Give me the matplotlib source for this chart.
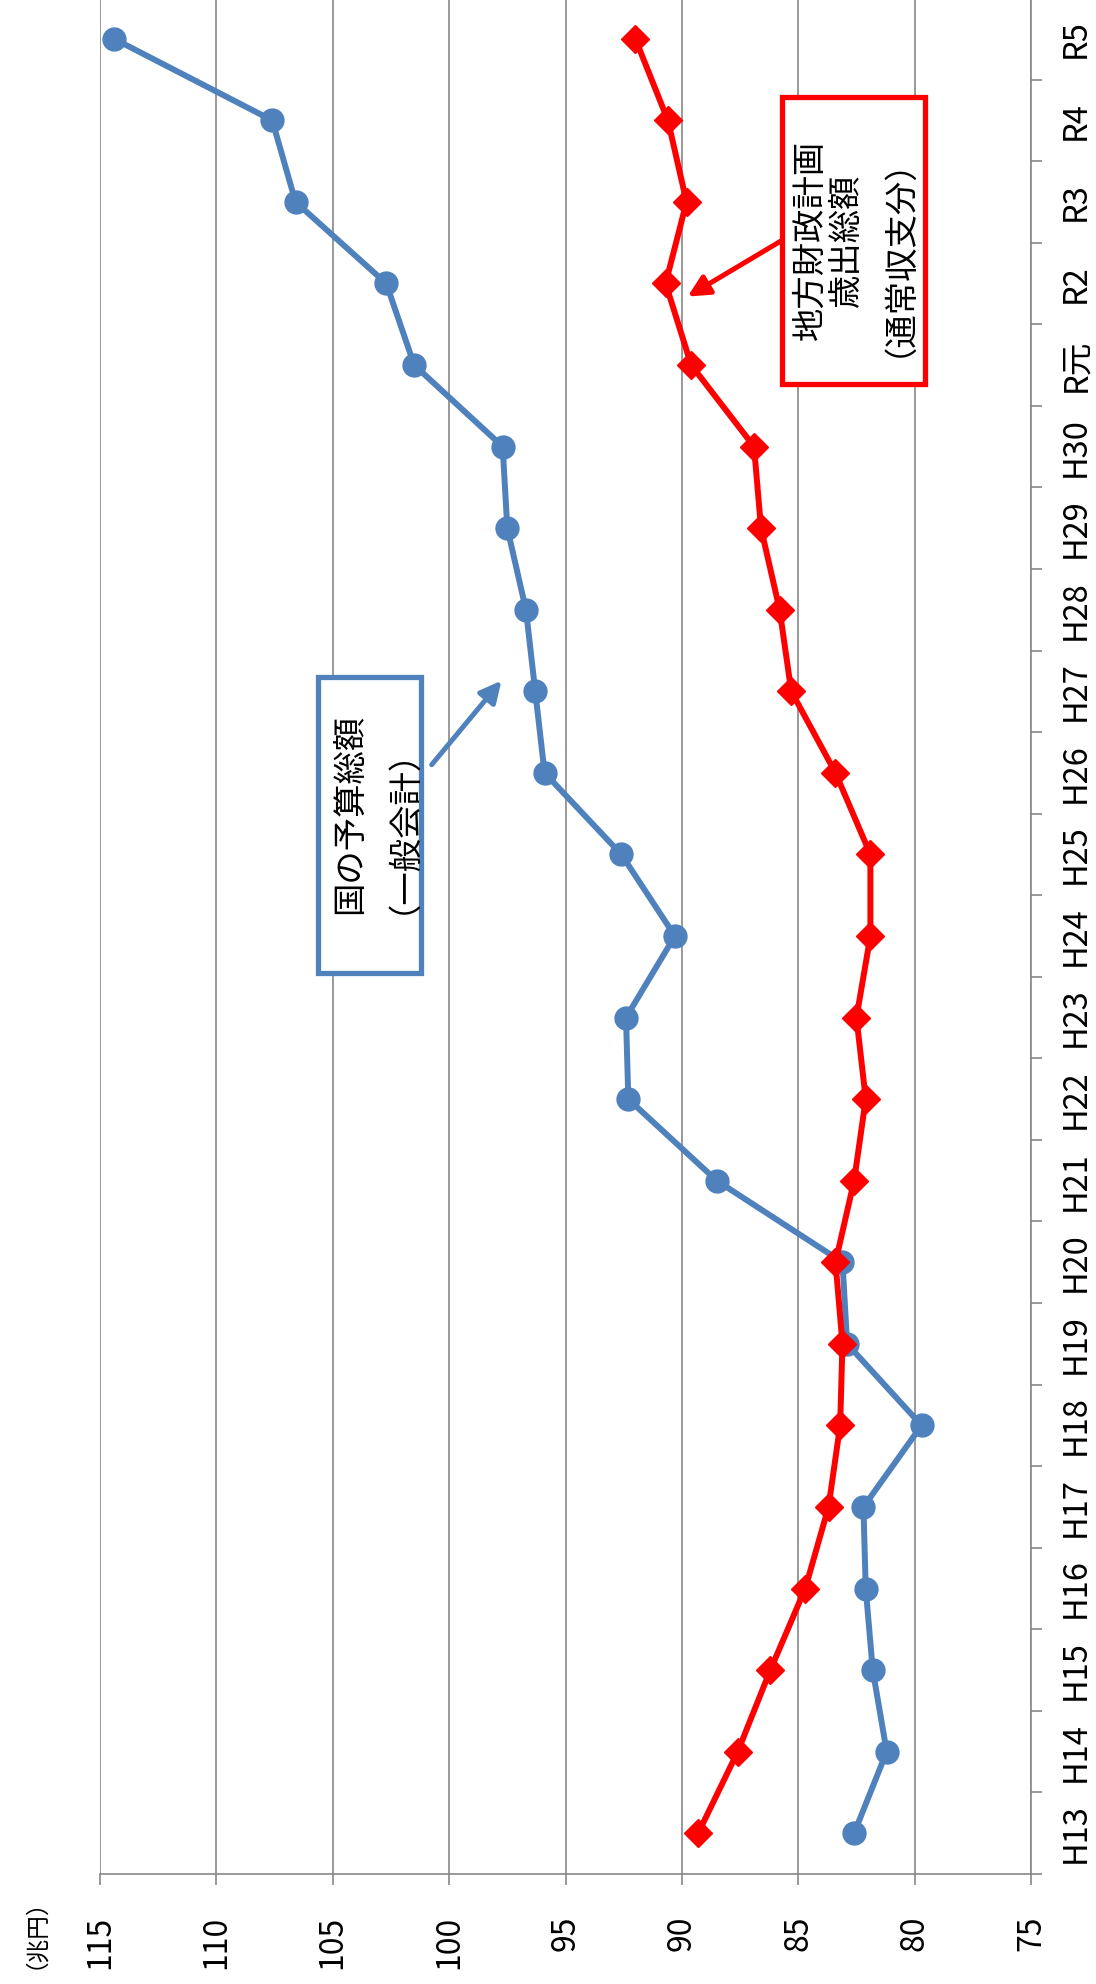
import matplotlib
matplotlib.use('Agg')
import matplotlib.pyplot as plt
from matplotlib.patches import Rectangle

plt.rcParams['font.family'] = ['Noto Sans CJK JP', 'DejaVu Sans']

years = ['H13', 'H14', 'H15', 'H16', 'H17', 'H18', 'H19', 'H20', 'H21', 'H22',
         'H23', 'H24', 'H25', 'H26', 'H27', 'H28', 'H29', 'H30',
         'R元', 'R2', 'R3', 'R4', 'R5']
# national budget, general account (trillion yen)
national = [82.6, 81.2, 81.8, 82.1, 82.2, 79.7, 82.9, 83.1, 88.5, 92.3,
            92.4, 90.3, 92.6, 95.9, 96.3, 96.7, 97.5, 97.7,
            101.5, 102.7, 106.6, 107.6, 114.4]
# local finance plan, total expenditure (ordinary)
local = [89.3, 87.6, 86.2, 84.7, 83.7, 83.2, 83.1, 83.4, 82.6, 82.1,
         82.5, 81.9, 81.9, 83.4, 85.3, 85.8, 86.6, 86.9,
         89.6, 90.7, 89.8, 90.6, 92.0]
value_ticks = [75, 80, 85, 90, 95, 100, 105, 110, 115]

BLUE = '#4F81BD'
RED = '#FF0000'
GRID = '#878787'

fig = plt.figure(figsize=(10.96, 19.84), dpi=100)
ax = fig.add_axes([100/1096, 110/1984, 931/1096, 1876/1984])

pos = list(range(len(years)))
ax.plot(national, pos, color=BLUE, lw=4.3, marker='o', markersize=16.5,
        solid_capstyle='round', zorder=3)
ax.plot(local, pos, color=RED, lw=4.3, marker='D', markersize=14,
        solid_capstyle='round', zorder=4)

ax.set_xlim(115, 75)
ax.set_ylim(-0.5, len(years) - 0.5)
ax.set_xticks(value_ticks)
ax.set_xticklabels([str(v) for v in value_ticks], rotation=90, fontsize=23)
ax.grid(axis='x', color=GRID, lw=1.2, zorder=0)
ax.tick_params(axis='x', direction='out', length=8, width=1.2, color=GRID, pad=22)

ax.yaxis.tick_right()
ax.set_yticks(pos)
ax.set_yticklabels(years, rotation=90, fontsize=23.5, va='center')
ax.set_yticks([p - 0.5 for p in pos] + [len(years) - 0.5], minor=True)
ax.tick_params(axis='y', which='major', length=0, pad=21)
ax.tick_params(axis='y', which='minor', direction='out', length=8, width=1.2, color=GRID)

for side in ['top', 'left']:
    ax.spines[side].set_visible(False)
for side in ['bottom', 'right']:
    ax.spines[side].set_color(GRID)
    ax.spines[side].set_linewidth(1.2)

# callout for national budget
ax.add_patch(Rectangle((101.2, 10.55), 4.45, 3.62, facecolor='white',
                       edgecolor=BLUE, lw=3.8, zorder=5))
ax.text(103.5, 12.5, '国の予算総額\n（一般会計）', rotation=90, ha='center', va='center',
        fontsize=24, linespacing=1.02, multialignment='center', zorder=6)
ax.annotate('', xy=(97.75, 14.13), xytext=(100.75, 13.1),
            arrowprops=dict(arrowstyle='-|>', color=BLUE, lw=3.6, mutation_scale=32,
                            shrinkA=0, shrinkB=0), zorder=6)

# callout for local finance plan
ax.add_patch(Rectangle((79.55, 17.77), 6.15, 3.52, facecolor='white',
                       edgecolor=RED, lw=3.8, zorder=5))
ax.text(82.95, 19.53, '地方財政計画\n歳出総額\n（通常収支分）', rotation=90, ha='center', va='center',
        fontsize=24, linespacing=1.02, multialignment='center', zorder=6)
ax.annotate('', xy=(89.75, 18.84), xytext=(85.75, 19.52),
            arrowprops=dict(arrowstyle='-|>', color=RED, lw=3.6, mutation_scale=32,
                            shrinkA=0, shrinkB=0), zorder=6)

fig.text(24/1096, 1 - 1922/1984, '（兆円）', rotation=90, ha='center', va='center', fontsize=17)

fig.savefig('out.png', dpi=100)
